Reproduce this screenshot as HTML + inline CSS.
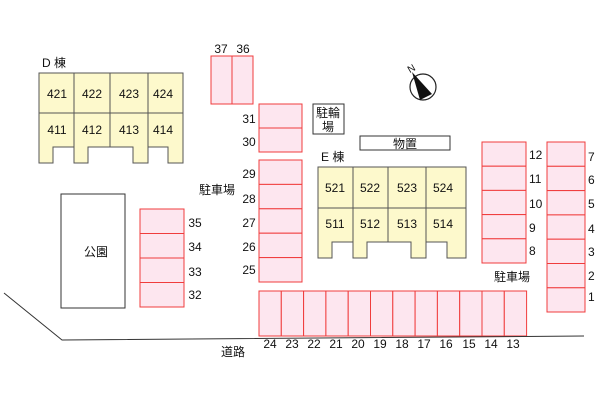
<!DOCTYPE html>
<html><head><meta charset="utf-8"><style>
html,body{margin:0;padding:0;background:#fff;}
svg text{font-family:"Liberation Sans","Noto Sans CJK JP",sans-serif;font-size:12px;fill:#111;}
</style></head><body>
<svg width="600" height="400" viewBox="0 0 600 400" xmlns="http://www.w3.org/2000/svg">
<g fill="#fde6ef" stroke="#f03c3c" stroke-width="1">
<rect x="211" y="56" width="21" height="48"/><rect x="232" y="56" width="21" height="48"/>
<rect x="259" y="104" width="43" height="24"/><rect x="259" y="128" width="43" height="24"/>
<rect x="259" y="160" width="43" height="24.4"/><rect x="259" y="184.4" width="43" height="24.4"/><rect x="259" y="208.8" width="43" height="24.4"/><rect x="259" y="233.2" width="43" height="24.4"/><rect x="259" y="257.6" width="43" height="24.4"/>
<rect x="140" y="209" width="44" height="24.5"/><rect x="140" y="233.5" width="44" height="24.5"/><rect x="140" y="258" width="44" height="24.5"/><rect x="140" y="282.5" width="44" height="24.5"/>
<rect x="482" y="142" width="44" height="24.2"/><rect x="482" y="166.2" width="44" height="24.2"/><rect x="482" y="190.4" width="44" height="24.2"/><rect x="482" y="214.6" width="44" height="24.2"/><rect x="482" y="238.8" width="44" height="24.2"/>
<rect x="547" y="142" width="38" height="24.3"/><rect x="547" y="166.3" width="38" height="24.3"/><rect x="547" y="190.6" width="38" height="24.3"/><rect x="547" y="214.9" width="38" height="24.3"/><rect x="547" y="239.2" width="38" height="24.3"/><rect x="547" y="263.5" width="38" height="24.3"/><rect x="547" y="287.8" width="38" height="24.2"/>
<rect x="259" y="291" width="22.3" height="45"/><rect x="281.3" y="291" width="22.3" height="45"/><rect x="303.6" y="291" width="22.3" height="45"/><rect x="325.9" y="291" width="22.3" height="45"/><rect x="348.2" y="291" width="22.3" height="45"/><rect x="370.5" y="291" width="22.3" height="45"/><rect x="392.8" y="291" width="22.3" height="45"/><rect x="415.1" y="291" width="22.3" height="45"/><rect x="437.4" y="291" width="22.3" height="45"/><rect x="459.7" y="291" width="22.3" height="45"/><rect x="482" y="291" width="22.3" height="45"/><rect x="504.3" y="291" width="22.3" height="45"/>
</g>
<g fill="#fdf9cc" stroke="#555" stroke-width="1">
<path d="M39,73 H183 V163 H168 V147 H148 V163 H133 V147 H88 V163 H74 V147 H53 V163 H39 Z"/>
<path d="M318,167 H466 V258 H447 V242 H426 V258 H411 V242 H367 V258 H353 V242 H332 V258 H318 Z"/>
</g>
<g stroke="#555" stroke-width="1" fill="none">
<path d="M39,113 H183 M74,73 V163 M110,73 V147 M148,73 V147"/>
<path d="M318,208 H466 M353,167 V258 M388,167 V242 M426,167 V258"/>
</g>
<g fill="#fff" stroke="#333" stroke-width="1">
<rect x="61" y="194" width="64" height="114"/>
<rect x="313" y="104" width="31" height="30"/>
<rect x="360" y="136" width="90" height="14"/>
</g>
<path d="M4,293 L62,340 L584,336" stroke="#333" fill="none" stroke-width="1"/>
<circle cx="423" cy="87" r="13" fill="#fff" stroke="#222" stroke-width="1.2"/>
<polygon points="412,72 420,100 432,94" fill="#111"/>
<text x="411" y="72" transform="rotate(-30 411 68)" text-anchor="middle" style="font-size:10px">N</text>
<g text-anchor="middle">
<text x="57" y="98">421</text><text x="92" y="98">422</text><text x="129" y="98">423</text><text x="163" y="98">424</text>
<text x="57" y="134">411</text><text x="92" y="134">412</text><text x="129" y="134">413</text><text x="163" y="134">414</text>
<text x="335" y="192">521</text><text x="370" y="192">522</text><text x="407" y="192">523</text><text x="443" y="192">524</text>
<text x="335" y="228">511</text><text x="370" y="228">512</text><text x="407" y="228">513</text><text x="443" y="228">514</text>
<text x="221" y="53">37</text><text x="243" y="53">36</text>
<text x="249" y="123">31</text><text x="249" y="146">30</text>
<text x="249" y="178">29</text><text x="249" y="203">28</text><text x="249" y="227">27</text><text x="249" y="251">26</text><text x="249" y="274">25</text>
<text x="195" y="227">35</text><text x="195" y="251">34</text><text x="195" y="276">33</text><text x="195" y="299">32</text>
<text x="270" y="348">24</text><text x="292" y="348">23</text><text x="314" y="348">22</text><text x="336" y="348">21</text><text x="358" y="348">20</text><text x="380" y="348">19</text><text x="402" y="348">18</text><text x="424" y="348">17</text><text x="446" y="348">16</text><text x="469" y="348">15</text><text x="491" y="348">14</text><text x="513" y="348">13</text>
<text x="96" y="256">公園</text>
<text x="233" y="356">道路</text>
<text x="217" y="194">駐車場</text>
<text x="512" y="281">駐車場</text>
<text x="405" y="148">物置</text>
<text x="328" y="117">駐輪</text><text x="328" y="131">場</text>
</g>
<g>
<text x="529" y="159">12</text><text x="529" y="183">11</text><text x="529" y="208">10</text><text x="529" y="232">9</text><text x="529" y="255">8</text>
<text x="588" y="161">7</text><text x="588" y="184">6</text><text x="588" y="208">5</text><text x="588" y="233">4</text><text x="588" y="256">3</text><text x="588" y="280">2</text><text x="588" y="301">1</text>
<text x="42" y="67">D 棟</text><text x="321" y="161">E 棟</text>
</g>
</svg>
</body></html>
